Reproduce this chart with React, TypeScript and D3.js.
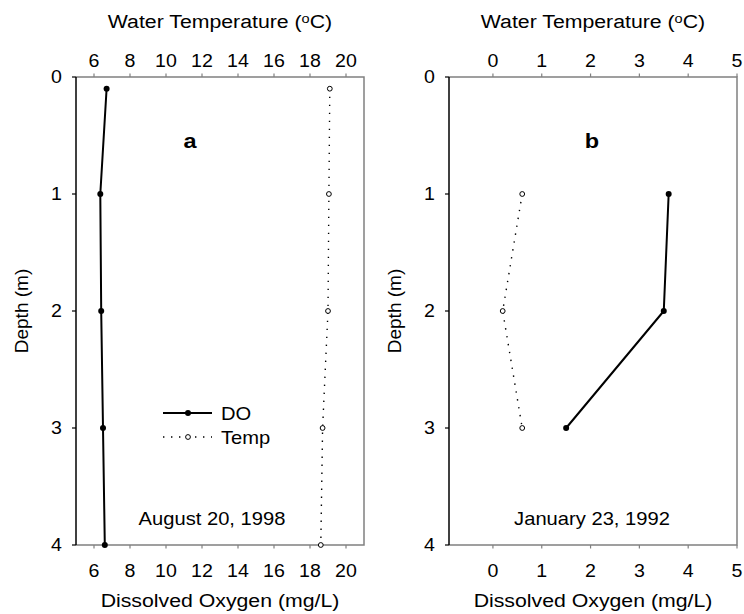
import React from 'react';
import * as d3 from 'd3';

// Panel a: August 20, 1998
const depthA = [0.1, 1, 2, 3, 4];
const doA = [6.7, 6.35, 6.4, 6.5, 6.6];
const tempA = [19.1, 19.05, 19.0, 18.7, 18.6];
const ticksA = [6, 8, 10, 12, 14, 16, 18, 20];

// Panel b: January 23, 1992
const depthB = [1, 2, 3];
const doB = [3.6, 3.5, 1.5];
const tempB = [0.6, 0.2, 0.6];
const ticksB = [0, 1, 2, 3, 4, 5];

const depthTicks = [0, 1, 2, 3, 4];

const W = 744;
const H = 614;
const FONT = '"Liberation Sans", Arial, sans-serif';
const SX = 1.12; // the source picture is a bit stretched sideways
const FRAME = '#808080';

function SText({ x, y, size, children, anchor = 'middle', weight = 'normal' }: any) {
  return (
    <text
      transform={`translate(${x},${y}) scale(${SX},1)`}
      textAnchor={anchor}
      fontSize={size}
      fontWeight={weight}
      fontFamily={FONT}
      fill="#000"
    >
      {children}
    </text>
  );
}

interface PanelProps {
  x0: number;
  domain: [number, number];
  ticks: number[];
  depth: number[];
  dox: number[];
  temp: number[];
  tag: string;
  tagX: number;
  date: string;
  dateX: number;
  legend?: boolean;
}

function Panel({ x0, domain, ticks, depth, dox, temp, tag, tagX, date, dateX, legend }: PanelProps) {
  const top = 77;
  const bottom = 545;
  const width = 288;
  const x = d3.scaleLinear().domain(domain).range([x0, x0 + width]);
  const y = d3.scaleLinear().domain([0, 4]).range([top, bottom]);

  const line = d3.line<[number, number]>().x(d => x(d[0])).y(d => y(d[1]));
  const doPts: [number, number][] = dox.map((v, i) => [v, depth[i]]);
  const tPts: [number, number][] = temp.map((v, i) => [v, depth[i]]);
  const cx = x0 + width / 2;

  return (
    <g>
      {/* frame: top, bottom, right in grey */}
      <path
        d={`M${x0},${top}H${x0 + width}V${bottom}H${x0}`}
        fill="none"
        stroke={FRAME}
        strokeWidth={1.5}
      />
      <line x1={x0} x2={x0} y1={top} y2={bottom} stroke="#000" strokeWidth={1.5} />

      {/* x ticks top & bottom */}
      {ticks.map(t => (
        <g key={t}>
          <line x1={x(t)} x2={x(t)} y1={top} y2={top - 3.5} stroke={FRAME} strokeWidth={1.2} />
          <line x1={x(t)} x2={x(t)} y1={bottom} y2={bottom + 3.5} stroke={FRAME} strokeWidth={1.2} />
          <SText x={x(t)} y={top - 10} size={17.5}>{t}</SText>
          <SText x={x(t)} y={577} size={17.5}>{t}</SText>
        </g>
      ))}

      {/* depth ticks */}
      {depthTicks.map(t => (
        <g key={t}>
          <line x1={x0} x2={x0 - 4} y1={y(t)} y2={y(t)} stroke="#000" strokeWidth={1.2} />
          <SText x={x0 - 14} y={y(t) + 6} size={17.5} anchor="end">{t}</SText>
        </g>
      ))}

      <SText x={cx} y={28} size={19}>
        Water Temperature (<tspan fontSize={13} dy={-5}>o</tspan><tspan dy={5}>C)</tspan>
      </SText>
      <SText x={cx} y={607} size={19}>Dissolved Oxygen (mg/L)</SText>
      <text
        transform={`translate(${x0 - 48},${(top + bottom) / 2}) rotate(-90)`}
        textAnchor="middle"
        fontSize={19}
        fontFamily={FONT}
      >
        Depth (m)
      </text>

      {/* Temp series */}
      <path
        d={line(tPts) || ''}
        fill="none"
        stroke="#000"
        strokeWidth={1.4}
        strokeDasharray="1.4,6.6"
      />
      {tPts.map((p, i) => (
        <circle key={i} cx={x(p[0])} cy={y(p[1])} r={2.4} fill="#fff" stroke="#000" strokeWidth={1} />
      ))}

      {/* DO series */}
      <path d={line(doPts) || ''} fill="none" stroke="#000" strokeWidth={2} />
      {doPts.map((p, i) => (
        <circle key={i} cx={x(p[0])} cy={y(p[1])} r={3} fill="#000" />
      ))}

      <SText x={tagX} y={148} size={21} weight="bold">{tag}</SText>
      <SText x={dateX} y={525} size={18}>{date}</SText>

      {legend && (
        <g>
          <line x1={163} x2={212} y1={413} y2={413} stroke="#000" strokeWidth={2} />
          <circle cx={188} cy={413} r={3} fill="#000" />
          <SText x={221} y={420} size={18} anchor="start">DO</SText>
          <line
            x1={163}
            x2={212}
            y1={437}
            y2={437}
            stroke="#000"
            strokeWidth={1.4}
            strokeDasharray="1.4,6.6"
          />
          <circle cx={188} cy={437} r={2.4} fill="#fff" stroke="#000" strokeWidth={1} />
          <SText x={221} y={444} size={18} anchor="start">Temp</SText>
        </g>
      )}
    </g>
  );
}

export default function App() {
  return (
    <svg
      width={W}
      height={H}
      style={{ position: 'absolute', left: 0, top: 0, background: '#fff' }}
    >
      <Panel
        x0={76}
        domain={[5, 21]}
        ticks={ticksA}
        depth={depthA}
        dox={doA}
        temp={tempA}
        tag="a"
        tagX={190}
        date="August 20, 1998"
        dateX={212}
        legend
      />
      <Panel
        x0={449}
        domain={[-0.9, 5]}
        ticks={ticksB}
        depth={depthB}
        dox={doB}
        temp={tempB}
        tag="b"
        tagX={592}
        date="January 23, 1992"
        dateX={592}
      />
    </svg>
  );
}
